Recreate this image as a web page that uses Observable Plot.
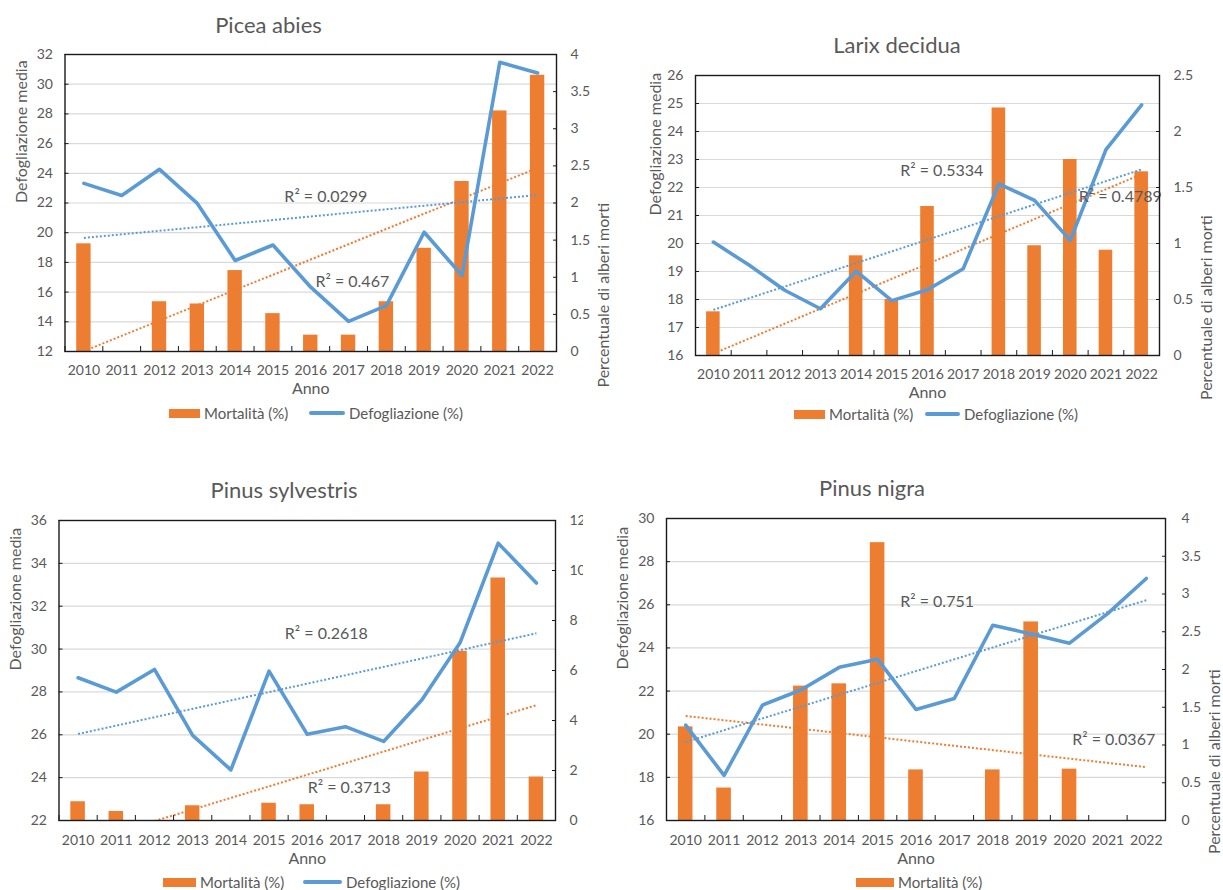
<!DOCTYPE html>
<html>
<head>
<meta charset="utf-8">
<script src="https://cdn.jsdelivr.net/npm/d3@7"></script>
<script src="https://cdn.jsdelivr.net/npm/@observablehq/plot@0.6"></script>
<style>
  body { margin: 0; background: #fff; font-family: Lato, "Open Sans", sans-serif; color: #595959; }
  #root { position: relative; width: 1223px; height: 890px; overflow: hidden; background: #fff; }
  .panel { position: absolute; overflow: hidden; }
  .panel svg { position: absolute; left: 0; top: 0; }
  .title { position: absolute; font-size: 22px; font-weight: 400; transform: translate(-50%, -50%); white-space: nowrap; line-height: 1; }
  .leg { position: absolute; font-size: 15px; white-space: nowrap; line-height: 1; transform: translateY(-50%); }
  .sw { position: absolute; }
</style>
</head>
<body>
<div id="root"></div>
<script>
// ---------- data ----------
const years = [2010, 2011, 2012, 2013, 2014, 2015, 2016, 2017, 2018, 2019, 2020, 2021, 2022];

const piceaDefol = [23.32, 22.51, 24.27, 21.97, 18.13, 19.17, 16.33, 14.03, 15.09, 20.03, 17.12, 31.48, 30.76];
const piceaMort  = [1.45, 0, 0.67, 0.64, 1.09, 0.51, 0.22, 0.22, 0.67, 1.39, 2.29, 3.24, 3.72];
const larixDefol = [20.05, 19.23, 18.33, 17.67, 19.01, 17.96, 18.35, 19.10, 22.13, 21.54, 20.11, 23.35, 24.95];
const larixMort  = [0.39, 0, 0, 0, 0.89, 0.50, 1.33, 0, 2.21, 0.98, 1.75, 0.94, 1.64];
const sylvDefol  = [28.66, 27.99, 29.05, 25.97, 24.36, 28.97, 26.02, 26.38, 25.69, 27.62, 30.29, 34.94, 33.08];
const sylvMort   = [0.75, 0.36, 0, 0.59, 0, 0.69, 0.63, 0, 0.63, 1.94, 6.77, 9.70, 1.74];
const nigraDefol = [20.42, 18.09, 21.35, 22.05, 23.10, 23.47, 21.15, 21.66, 25.05, 24.65, 24.22, 25.60, 27.22];
const nigraMort  = [1.24, 0.43, 0, 1.78, 1.81, 3.68, 0.67, 0, 0.67, 2.63, 0.68, 0, 0];

const piceaLeftTicks  = [12, 14, 16, 18, 20, 22, 24, 26, 28, 30, 32];
const piceaRightTicks = [0, 0.5, 1, 1.5, 2, 2.5, 3, 3.5, 4];
const larixLeftTicks  = [16, 17, 18, 19, 20, 21, 22, 23, 24, 25, 26];
const larixRightTicks = [0, 0.5, 1, 1.5, 2, 2.5];
const sylvLeftTicks   = [22, 24, 26, 28, 30, 32, 34, 36];
const sylvRightTicks  = [0, 2, 4, 6, 8, 10, 12];
const nigraLeftTicks  = [16, 18, 20, 22, 24, 26, 28, 30];
const nigraRightTicks = [0, 0.5, 1, 1.5, 2, 2.5, 3, 3.5, 4];

const piceaR2 = [{label: "R² = 0.0299", year: 2016.4, value: 22.4}, {label: "R² = 0.467", year: 2017.1, value: 16.7}];
const larixR2 = [{label: "R² = 0.5334", year: 2016.4, value: 22.6}, {label: "R² = 0.4789", year: 2021.4, value: 21.65}];
const sylvR2  = [{label: "R² = 0.2618", year: 2016.5, value: 30.7}, {label: "R² = 0.3713", year: 2017.1, value: 23.5}];
const nigraR2 = [{label: "R² = 0.751", year: 2016.55, value: 26.15}, {label: "R² = 0.0367", year: 2021.15, value: 19.75}];

const titles = ["Picea abies", "Larix decidua", "Pinus sylvestris", "Pinus nigra"];
const leftTitle = "Defogliazione media";
const rightTitle = "Percentuale di alberi morti";
const xTitle = "Anno";
const legMort = "Mortalità (%)";
const legDefol = "Defogliazione (%)";

// ---------- styles / layout ----------
const ORANGE = "#ED7D31", BLUE = "#5B9BD5", TXT = "#595959", AX = "#1a1a1a";
const BAR_HALF = 0.19;

const panels = [
  {title: titles[0], defol: piceaDefol, mort: piceaMort, lt: piceaLeftTicks, rt: piceaRightTicks, r2: piceaR2,
   box: [0, 0, 624, 405], frame: [64.5, 556, 54, 351], titleXY: [268.5, 25],
   xPad: 14, rPad: 18, lDx: -43.5, rDx: 47, aDy: 37,
   legendY: 413, legend: [{kind: "rect", x: 169, w: 31}, {kind: "line", x: 309, w: 36}]},
  {title: titles[1], defol: larixDefol, mort: larixMort, lt: larixLeftTicks, rt: larixRightTicks, r2: larixR2,
   box: [615, 0, 608, 410], frame: [695, 1159, 75, 355], titleXY: [897, 45],
   xPad: 14, rPad: 18, lDx: -40, rDx: 47, aDy: 37,
   legendY: 414, legend: [{kind: "rect", x: 794, w: 31}, {kind: "line", x: 925, w: 35}]},
  {title: titles[2], defol: sylvDefol, mort: sylvMort, lt: sylvLeftTicks, rt: sylvRightTicks, r2: sylvR2,
   box: [0, 440, 583, 450], frame: [58.5, 555, 520, 820], titleXY: [284, 490],
   xPad: 15, rPad: 18, lDx: -43, rDx: 47, aDy: 38,
   legendY: 882, legend: [{kind: "rect", x: 163, w: 33}, {kind: "line", x: 303, w: 39}]},
  {title: titles[3], defol: nigraDefol, mort: nigraMort, lt: nigraLeftTicks, rt: nigraRightTicks, r2: nigraR2,
   box: [600, 440, 623, 450], frame: [666, 1165, 518, 820], titleXY: [872, 488],
   xPad: 15, rPad: 20, lDx: -44, rDx: 49, aDy: 38,
   legendY: 882, legend: [{kind: "rect", x: 856, w: 38}]}
];

const fmt = v => String(Math.round(v * 1000) / 1000);
const root = document.getElementById("root");
const trendStyle = {strokeWidth: 2, strokeDasharray: "2,2", strokeLinecap: "butt", strokeLinejoin: "miter", ci: 0, clip: true};

for (const p of panels) {
  const [bl, bt, bw, bh] = p.box;
  const [fl, fr, ft, fb] = p.frame;
  const lo = p.lt[0], hi = p.lt[p.lt.length - 1];
  const rmax = p.rt[p.rt.length - 1];
  const k = (hi - lo) / rmax;
  const toLeft = v => lo + v * k;
  const fromLeft = v => (v - lo) / k;
  const rows = years.map((year, i) => ({year, d: p.defol[i], m: p.mort[i], mm: toLeft(p.mort[i])}));
  const bounds = d3.range(years.length + 1).map(i => years[0] - 0.5 + i);

  const svg = Plot.plot({
    width: bw, height: bh,
    marginLeft: fl - bl, marginRight: bl + bw - fr, marginTop: ft - bt, marginBottom: bt + bh - fb,
    x: {type: "linear", domain: [years[0] - 0.5, years[years.length - 1] + 0.5]},
    y: {type: "linear", domain: [lo, hi]},
    style: {fontFamily: "Lato, 'Open Sans', sans-serif", fontSize: "14px", color: TXT, background: "transparent", overflow: "visible"},
    marks: [
      Plot.gridY(p.lt, {stroke: "#d9d9d9", strokeOpacity: 1, strokeWidth: 1.2}),
      Plot.rectY(rows, {x1: d => d.year - BAR_HALF, x2: d => d.year + BAR_HALF, y1: lo, y2: "mm", fill: ORANGE}),
      Plot.linearRegressionY(rows, {x: "year", y: "mm", stroke: ORANGE, ...trendStyle}),
      Plot.linearRegressionY(rows, {x: "year", y: "d", stroke: BLUE, ...trendStyle}),
      Plot.line(rows, {x: "year", y: "d", stroke: BLUE, strokeWidth: 3.6, strokeLinejoin: "round", strokeLinecap: "round"}),
      Plot.text(p.r2, {x: "year", y: "value", text: "label", fontSize: 16, fill: TXT}),
      Plot.frame({stroke: AX, strokeWidth: 1.4}),
      Plot.axisX(bounds, {tickSize: -5, fill: "none", stroke: AX, label: null}),
      Plot.axisX(years, {tickSize: 0, tickPadding: p.xPad, tickFormat: d => String(d), fill: TXT, label: null}),
      Plot.axisY(p.lt, {anchor: "left", tickSize: -4, tickPadding: 16, stroke: AX, fill: TXT, label: null}),
      Plot.axisY(p.rt.map(toLeft), {anchor: "right", tickSize: -4, tickPadding: p.rPad, stroke: AX, fill: TXT,
        tickFormat: d => fmt(fromLeft(d)), label: null}),
      Plot.text([leftTitle], {frameAnchor: "left", rotate: -90, dx: p.lDx, lineAnchor: "middle", fontSize: 16, fill: TXT}),
      Plot.text([rightTitle], {frameAnchor: "right", rotate: -90, dx: p.rDx, lineAnchor: "middle", fontSize: 16, fill: TXT}),
      Plot.text([xTitle], {frameAnchor: "bottom", dy: p.aDy, lineAnchor: "middle", fontSize: 16, fill: TXT})
    ]
  });

  const div = document.createElement("div");
  div.className = "panel";
  Object.assign(div.style, {left: bl + "px", top: bt + "px", width: bw + "px", height: bh + "px"});
  div.appendChild(svg);
  root.appendChild(div);

  const t = document.createElement("div");
  t.className = "title";
  t.textContent = p.title;
  Object.assign(t.style, {left: p.titleXY[0] + "px", top: p.titleXY[1] + "px"});
  root.appendChild(t);

  for (const item of p.legend) {
    const sw = document.createElement("div");
    sw.className = "sw";
    const h = item.kind === "rect" ? 9 : 3.5;
    Object.assign(sw.style, {left: item.x + "px", top: (p.legendY - h / 2) + "px", width: item.w + "px", height: h + "px",
      background: item.kind === "rect" ? ORANGE : BLUE, borderRadius: item.kind === "rect" ? "0" : "2px"});
    root.appendChild(sw);
    const lab = document.createElement("div");
    lab.className = "leg";
    lab.textContent = item.kind === "rect" ? legMort : legDefol;
    Object.assign(lab.style, {left: (item.x + item.w + 4) + "px", top: p.legendY + "px"});
    root.appendChild(lab);
  }
}
</script>
</body>
</html>
